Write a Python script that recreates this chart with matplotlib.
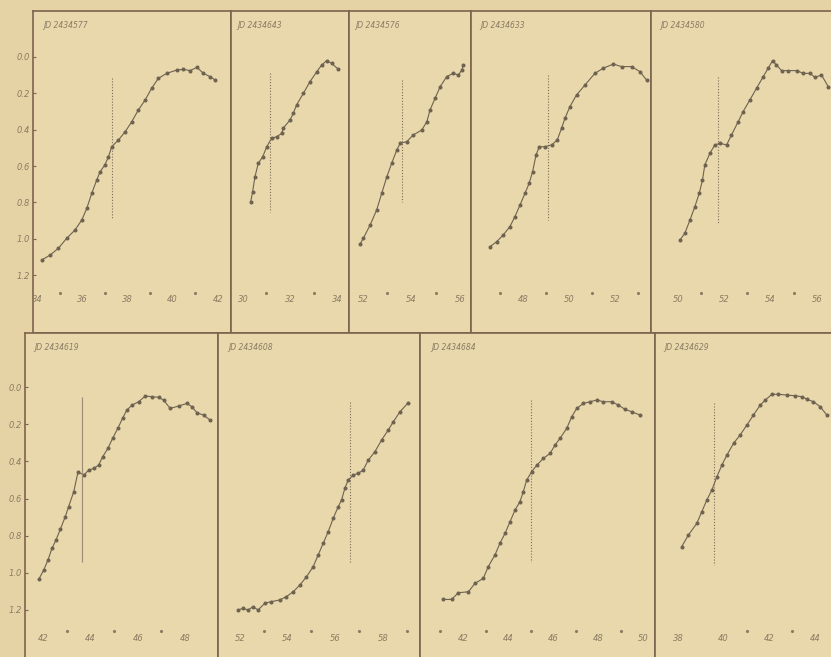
import numpy as np
from matplotlib import pyplot as plt

# nine light curves, time in the units printed under each panel, mag offset
jd_labels = ['JD 2434577', 'JD 2434643', 'JD 2434576', 'JD 2434633',
             'JD 2434580', 'JD 2434619', 'JD 2434608', 'JD 2434684',
             'JD 2434629']

t_577 = [34.21, 34.58, 34.94, 35.31, 35.68, 35.98, 36.2, 36.42, 36.64, 36.79,
         37.0, 37.16, 37.3, 37.6, 37.9, 38.19, 38.48, 38.78, 39.07, 39.37,
         39.74, 40.18, 40.47, 40.77, 41.07, 41.36, 41.65, 41.88]
m_577 = [1.117, 1.09, 1.053, 0.998, 0.952, 0.897, 0.833, 0.75, 0.677, 0.631,
         0.594, 0.549, 0.494, 0.457, 0.411, 0.356, 0.292, 0.237, 0.172, 0.117,
         0.09, 0.072, 0.068, 0.075, 0.057, 0.09, 0.108, 0.127]

t_643 = [30.33, 30.41, 30.51, 30.65, 30.84, 31.01, 31.22, 31.43, 31.65, 31.71,
         32.0, 32.14, 32.28, 32.57, 32.85, 33.14, 33.35, 33.56, 33.77, 34.06]
m_643 = [0.796, 0.741, 0.659, 0.585, 0.549, 0.494, 0.447, 0.439, 0.42, 0.392,
         0.347, 0.31, 0.264, 0.2, 0.136, 0.081, 0.044, 0.02, 0.035, 0.068]

t_576 = [51.88, 52.01, 52.29, 52.56, 52.77, 52.98, 53.18, 53.39, 53.53, 53.8,
         54.07, 54.42, 54.63, 54.76, 54.97, 55.18, 55.45, 55.72, 55.93, 56.07,
         56.14]
m_576 = [1.029, 0.998, 0.925, 0.842, 0.75, 0.659, 0.585, 0.512, 0.475, 0.466,
         0.429, 0.402, 0.356, 0.292, 0.227, 0.163, 0.108, 0.09, 0.099, 0.072,
         0.044]

t_633 = [46.57, 46.86, 47.14, 47.43, 47.65, 47.87, 48.09, 48.27, 48.42, 48.57,
         48.71, 48.96, 49.25, 49.49, 49.68, 49.83, 50.04, 50.33, 50.7, 51.13,
         51.49, 51.93, 52.29, 52.73, 53.09, 53.38]
m_633 = [1.044, 1.016, 0.98, 0.934, 0.879, 0.815, 0.75, 0.695, 0.631, 0.539,
         0.494, 0.494, 0.484, 0.457, 0.392, 0.337, 0.274, 0.209, 0.154, 0.09,
         0.062, 0.039, 0.053, 0.053, 0.081, 0.127]

t_580 = [50.09, 50.3, 50.52, 50.73, 50.92, 51.06, 51.16, 51.38, 51.59, 51.81,
         52.1, 52.31, 52.6, 52.81, 53.1, 53.39, 53.68, 53.89, 54.08, 54.25,
         54.47, 54.75, 55.12, 55.4, 55.69, 55.91, 56.19, 56.48]
m_580 = [1.007, 0.97, 0.897, 0.824, 0.75, 0.677, 0.594, 0.53, 0.484, 0.475,
         0.484, 0.429, 0.356, 0.301, 0.237, 0.172, 0.108, 0.062, 0.02, 0.044,
         0.075, 0.075, 0.075, 0.09, 0.09, 0.112, 0.099, 0.163]

t_619 = [41.82, 42.03, 42.21, 42.38, 42.55, 42.73, 42.94, 43.08, 43.3, 43.48,
         43.72, 43.93, 44.14, 44.35, 44.52, 44.74, 44.94, 45.16, 45.36, 45.54,
         45.76, 46.04, 46.32, 46.6, 46.88, 47.09, 47.37, 47.73, 48.08, 48.29,
         48.5, 48.78, 49.06]
m_619 = [1.035, 0.985, 0.931, 0.868, 0.823, 0.766, 0.698, 0.644, 0.563, 0.456,
         0.474, 0.447, 0.438, 0.42, 0.375, 0.33, 0.276, 0.222, 0.168, 0.124,
         0.097, 0.079, 0.048, 0.052, 0.055, 0.07, 0.115, 0.102, 0.088, 0.106,
         0.138, 0.151, 0.178]

t_608 = [51.92, 52.13, 52.34, 52.55, 52.76, 53.04, 53.32, 53.67, 53.95, 54.23,
         54.51, 54.79, 55.07, 55.28, 55.49, 55.7, 55.91, 56.12, 56.26, 56.4,
         56.54, 56.75, 56.96, 57.17, 57.38, 57.66, 57.94, 58.22, 58.43, 58.71,
         59.03]
m_608 = [1.2, 1.191, 1.2, 1.182, 1.2, 1.164, 1.155, 1.146, 1.128, 1.102,
         1.066, 1.021, 0.967, 0.904, 0.841, 0.779, 0.707, 0.644, 0.608, 0.545,
         0.5, 0.474, 0.464, 0.447, 0.393, 0.348, 0.285, 0.231, 0.187, 0.133,
         0.088]

t_684 = [41.12, 41.5, 41.79, 42.24, 42.53, 42.9, 43.12, 43.42, 43.64, 43.87,
         44.09, 44.31, 44.53, 44.68, 44.83, 45.05, 45.28, 45.57, 45.87, 46.09,
         46.31, 46.61, 46.83, 47.05, 47.35, 47.64, 47.94, 48.24, 48.61, 48.9,
         49.2, 49.5, 49.87]
m_684 = [1.143, 1.143, 1.107, 1.102, 1.057, 1.03, 0.967, 0.904, 0.841, 0.787,
         0.725, 0.662, 0.617, 0.563, 0.5, 0.456, 0.42, 0.384, 0.357, 0.312,
         0.276, 0.222, 0.16, 0.115, 0.088, 0.079, 0.07, 0.079, 0.079, 0.097,
         0.12, 0.133, 0.151]

t_629 = [38.16, 38.45, 38.82, 39.04, 39.26, 39.48, 39.7, 39.92, 40.14, 40.43,
         40.72, 41.01, 41.3, 41.6, 41.82, 42.11, 42.4, 42.77, 43.13, 43.43,
         43.64, 43.93, 44.23, 44.52]
m_629 = [0.859, 0.797, 0.734, 0.671, 0.608, 0.554, 0.483, 0.42, 0.366, 0.303,
         0.258, 0.205, 0.151, 0.097, 0.07, 0.039, 0.039, 0.043, 0.047, 0.052,
         0.065, 0.079, 0.106, 0.151]

# dotted markers: time and magnitude range
mark_t = [37.3, 31.15, 53.6, 49.1, 51.74, 43.65, 56.6, 45.02, 39.59]
mark_top = [0.117, 0.09, 0.127, 0.099, 0.108, 0.052, 0.079, 0.07, 0.088]
mark_bottom = [0.888, 0.851, 0.796, 0.897, 0.915, 0.94, 0.94, 0.94, 0.958]

xticks_major = [[34, 36, 38, 40, 42], [30, 32, 34], [52, 54, 56],
                [48, 50, 52], [50, 52, 54, 56], [42, 44, 46, 48],
                [52, 54, 56, 58], [42, 44, 46, 48, 50], [38, 40, 42, 44]]
xticks_minor = [[35, 37, 39, 41], [31, 33], [53, 55], [47, 49, 51, 53],
                [51, 53, 55], [43, 45, 47], [53, 55, 57, 59],
                [41, 43, 45, 47, 49], [41, 43]]
mag_ticks = [0.0, 0.2, 0.4, 0.6, 0.8, 1.0, 1.2]

curves = [(t_577, m_577), (t_643, m_643), (t_576, m_576), (t_633, m_633),
          (t_580, m_580), (t_619, m_619), (t_608, m_608), (t_684, m_684),
          (t_629, m_629)]

# layout in pixels (x0, x1, y0, y1) and x-limits
W, H = 831, 657
boxes = [(33, 231, 11, 333), (231, 349, 11, 333), (349, 471, 11, 333),
         (471, 651, 11, 333), (651, 831, 11, 333),
         (25, 218, 333, 657), (218, 420, 333, 657), (420, 655, 333, 657),
         (655, 831, 333, 657)]
xlims = [(33.82, 42.58), (29.49, 34.51), (51.42, 56.45), (45.74, 53.57),
         (48.84, 56.6), (41.24, 49.39), (51.08, 59.55), (40.09, 50.53),
         (36.99, 44.7)]
ylim_top = (1.519, -0.253)
ylim_bot = (1.453, -0.291)

paper = '#e5d3a6'
ink = '#6e6250'
frame = '#7d634e'
faint = '#8c7b63'

fig = plt.figure(figsize=(W / 100, H / 100), dpi=100, facecolor=paper)

for i, (x0, x1, y0, y1) in enumerate(boxes):
    ax = fig.add_axes([x0 / W, 1 - y1 / H, (x1 - x0) / W, (y1 - y0) / H])
    ax.set_facecolor('#e8d8ac')
    top_row = i < 5
    ax.set_xlim(*xlims[i])
    ax.set_ylim(*(ylim_top if top_row else ylim_bot))
    for side, sp in ax.spines.items():
        sp.set_color(frame)
        sp.set_linewidth(1.2)
    if i in (4, 8):
        ax.spines['right'].set_visible(False)
    if not top_row:
        ax.spines['bottom'].set_visible(False)

    t, m = curves[i]
    ax.plot(t, m, '-o', color=ink, lw=0.8, ms=1.9, mfc=ink, mec=ink)
    if i == 5:
        ax.vlines(mark_t[i], mark_top[i], mark_bottom[i], color='#9a8a72',
                  lw=0.8)
    else:
        ax.vlines(mark_t[i], mark_top[i], mark_bottom[i], color='#7c6c57',
                  lw=0.8, linestyles=(0, (1, 1.6)))

    ax.text(0.05, 0.955, jd_labels[i], transform=ax.transAxes, fontsize=5.5,
            style='italic', color=faint, ha='left', va='center')

    ylab = 0.1025 if top_row else 0.0586
    ydot = 0.124 if top_row else 0.08
    tr = ax.get_xaxis_transform()
    for v in xticks_major[i]:
        ax.text(v, ylab, str(v), transform=tr, fontsize=6, style='italic',
                color=faint, ha='center', va='center')
    ax.plot(xticks_minor[i], [ydot] * len(xticks_minor[i]), transform=tr,
            ls='none', marker='.', ms=2.5, color=faint)

    ax.set_xticks([])
    if i in (0, 5):
        ax.set_yticks(mag_ticks)
        ax.set_yticklabels(['%.1f' % v for v in mag_ticks], fontsize=6,
                           style='italic', color=faint)
        ax.tick_params(axis='y', direction='in', length=2, width=0.8,
                       color=frame, pad=2)
    else:
        ax.set_yticks([])

fig.savefig('out.png', dpi=100, facecolor=paper)
